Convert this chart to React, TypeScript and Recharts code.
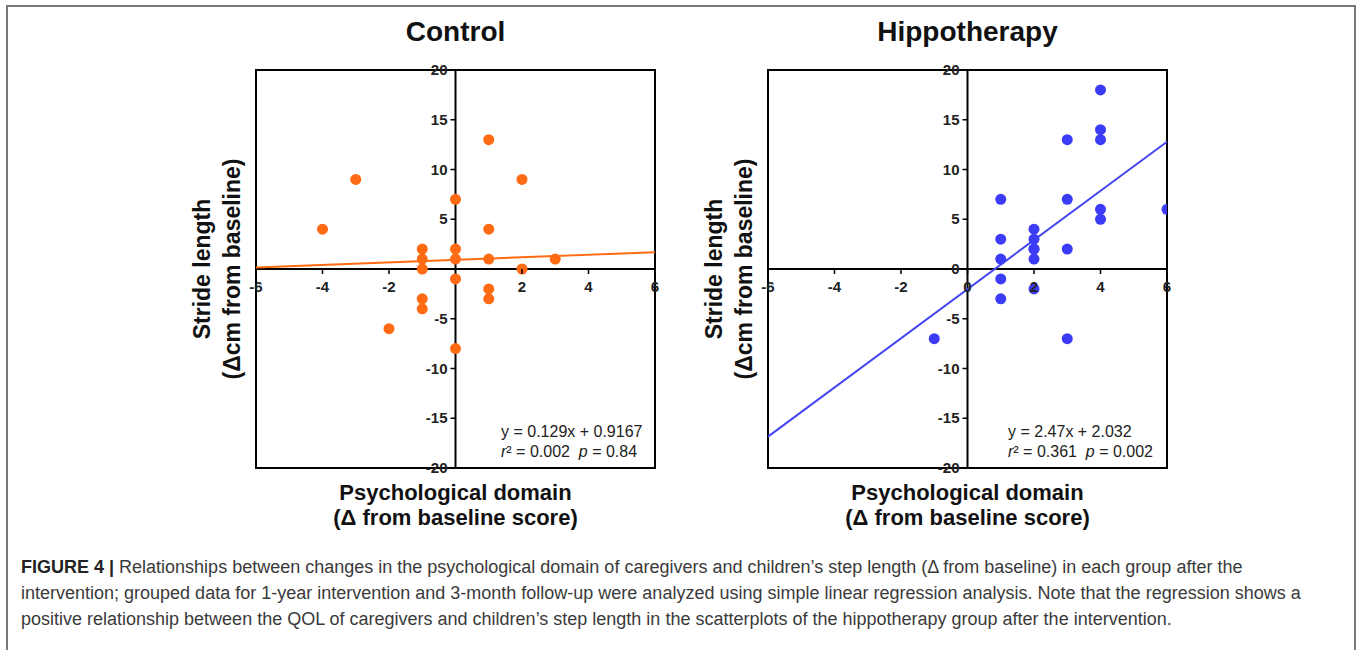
import React from "react";
import {
  ReferenceArea,
  ReferenceLine,
  Scatter,
  ScatterChart,
  XAxis,
  YAxis
} from "recharts";

// Control group: change in psychological domain vs stride length
const controlX = [-4, -3, -2, -1, -1, -1, -1, -1, 0, 0, 0, 0, 0, 1, 1, 1, 1, 1, 2, 2, 3];
const controlY = [4, 9, -6, 2, 1, 0, -3, -4, 7, 2, 1, -1, -8, 13, 4, 1, -2, -3, 9, 0, 1];
const controlFitX = [-6, 6];
const controlFitY = [0.14, 1.69];

// Hippotherapy group
const hippoX = [-1, 1, 1, 1, 1, 1, 2, 2, 2, 2, 2, 2, 3, 3, 3, 3, 4, 4, 4, 4, 4, 6];
const hippoY = [-7, 7, 3, 1, -1, -3, 4, 3, 2, 2, 1, -2, 13, 7, 2, -7, 18, 14, 13, 6, 5, 6];
const hippoFitX = [-6, 6];
const hippoFitY = [-16.85, 12.79];

const controlXTicks = [-6, -4, -2, 2, 4, 6];
const controlYTicks = [-20, -15, -10, -5, 5, 10, 15, 20];
const hippoXTicks = [-6, -4, -2, 0, 2, 4, 6];
const hippoYTicks = [-20, -15, -10, -5, 0, 5, 10, 15, 20];

const FONT = "'Liberation Sans', Arial, Helvetica, sans-serif";
const M = 24;
const PLOT_W = 399;
const PLOT_H = 398;
const PLOT_TOP = 70;

interface PanelProps {
  title: string;
  plotLeft: number;
  xs: number[];
  ys: number[];
  fitX: number[];
  fitY: number[];
  xTicks: number[];
  yTicks: number[];
  color: string;
  lineColor: string;
  eq: string;
  r2: string;
  p: string;
  eqLeft: number;
}

const Panel = (props: PanelProps) => {
  const { plotLeft, xs, ys, fitX, fitY, color, lineColor } = props;
  const points = xs.map((x, i) => ({ x, y: ys[i] }));
  // axes cross at the origin, in the middle of the plot area
  const cx0 = M + PLOT_W / 2;
  const cy0 = M + PLOT_H / 2;
  const midX = plotLeft + PLOT_W / 2;

  const XTick = (t: any) => (
    <g>
      <line x1={t.x} x2={t.x} y1={cy0} y2={cy0 + 5} stroke="#000" strokeWidth={1.5} />
      <text x={t.x} y={cy0 + 23} textAnchor="middle" fontSize={15} fontWeight="bold" fill="#222" fontFamily={FONT}>
        {t.payload.value}
      </text>
    </g>
  );

  const YTick = (t: any) => (
    <g>
      <line x1={cx0 - 5} x2={cx0} y1={t.y} y2={t.y} stroke="#000" strokeWidth={1.5} />
      <text x={cx0 - 8} y={t.y + 5} textAnchor="end" fontSize={15} fontWeight="bold" fill="#222" fontFamily={FONT}>
        {t.payload.value}
      </text>
    </g>
  );

  return (
    <>
      <div
        style={{
          position: "absolute",
          left: midX - 150,
          top: 14,
          width: 300,
          textAlign: "center",
          fontFamily: FONT,
          fontWeight: "bold",
          fontSize: 28,
          lineHeight: "36px",
          color: "#111"
        }}
      >
        {props.title}
      </div>
      <div
        style={{
          position: "absolute",
          left: plotLeft - 39 - 150,
          top: PLOT_TOP + PLOT_H / 2 - 30,
          width: 300,
          height: 60,
          transform: "rotate(-90deg)",
          textAlign: "center",
          fontFamily: FONT,
          fontWeight: "bold",
          fontSize: 23,
          lineHeight: "30px",
          color: "#111"
        }}
      >
        Stride length
        <br />
        (Δcm from baseline)
      </div>
      <div
        style={{
          position: "absolute",
          left: midX - 200,
          top: 480,
          width: 400,
          textAlign: "center",
          fontFamily: FONT,
          fontWeight: "bold",
          fontSize: 22,
          lineHeight: "25px",
          color: "#111"
        }}
      >
        Psychological domain
        <br />
        (Δ from baseline score)
      </div>
      <div style={{ position: "absolute", left: plotLeft - M, top: PLOT_TOP - M }}>
        <ScatterChart
          width={PLOT_W + 2 * M}
          height={PLOT_H + 2 * M}
          margin={{ top: M, right: M, bottom: M - 1, left: M - 1 }}
        >
          <XAxis
            type="number"
            dataKey="x"
            domain={[-6, 6]}
            ticks={props.xTicks}
            interval={0}
            height={1}
            axisLine={false}
            tickLine={false}
            tick={XTick}
            allowDataOverflow
          />
          <YAxis
            type="number"
            dataKey="y"
            domain={[-20, 20]}
            ticks={props.yTicks}
            interval={0}
            width={1}
            axisLine={false}
            tickLine={false}
            tick={YTick}
            allowDataOverflow
          />
          <ReferenceArea x1={-6} x2={6} y1={-20} y2={20} fill="none" stroke="#000" strokeWidth={2} ifOverflow="visible" />
          <ReferenceLine x={0} stroke="#000" strokeWidth={2} />
          <ReferenceLine y={0} stroke="#000" strokeWidth={2} />
          <ReferenceLine
            segment={[
              { x: fitX[0], y: fitY[0] },
              { x: fitX[1], y: fitY[1] }
            ]}
            stroke={lineColor}
            strokeWidth={2}
            ifOverflow="visible"
          />
          <Scatter
            data={points}
            isAnimationActive={false}
            shape={(s: any) => <circle cx={s.cx} cy={s.cy} r={5.5} fill={color} />}
          />
        </ScatterChart>
      </div>
      <div
        style={{
          position: "absolute",
          left: props.eqLeft,
          top: 422,
          fontFamily: FONT,
          fontSize: 16,
          lineHeight: "20px",
          color: "#222",
          whiteSpace: "nowrap"
        }}
      >
        {props.eq}
        <br />
        <i>r</i>² = {props.r2}&nbsp;&nbsp;<i>p</i> = {props.p}
      </div>
    </>
  );
};

export default function App() {
  return (
    <div style={{ position: "absolute", left: 0, top: 0, width: 1357, height: 650, background: "#fff", overflow: "hidden" }}>
      <div
        style={{
          position: "absolute",
          left: 6,
          top: 5,
          width: 1350,
          height: 700,
          boxSizing: "border-box",
          border: "2px solid #777"
        }}
      />
      <Panel
        title="Control"
        plotLeft={256}
        xs={controlX}
        ys={controlY}
        fitX={controlFitX}
        fitY={controlFitY}
        xTicks={controlXTicks}
        yTicks={controlYTicks}
        color="#ff6a13"
        lineColor="#ff6a13"
        eq="y = 0.129x + 0.9167"
        r2="0.002"
        p="0.84"
        eqLeft={501}
      />
      <Panel
        title="Hippotherapy"
        plotLeft={768}
        xs={hippoX}
        ys={hippoY}
        fitX={hippoFitX}
        fitY={hippoFitY}
        xTicks={hippoXTicks}
        yTicks={hippoYTicks}
        color="#3c3cf6"
        lineColor="#4646f2"
        eq="y = 2.47x + 2.032"
        r2="0.361"
        p="0.002"
        eqLeft={1008}
      />
      <div
        style={{
          position: "absolute",
          left: 21,
          top: 554,
          fontFamily: FONT,
          fontSize: 18,
          lineHeight: "26px",
          color: "#3a3a3a",
          whiteSpace: "nowrap"
        }}
      >
        <b style={{ color: "#222" }}>FIGURE 4 |</b> Relationships between changes in the psychological domain of caregivers and children’s step length (Δ from baseline) in each group after the
        <br />
        intervention; grouped data for 1-year intervention and 3-month follow-up were analyzed using simple linear regression analysis. Note that the regression shows a
        <br />
        positive relationship between the QOL of caregivers and children’s step length in the scatterplots of the hippotherapy group after the intervention.
      </div>
    </div>
  );
}
